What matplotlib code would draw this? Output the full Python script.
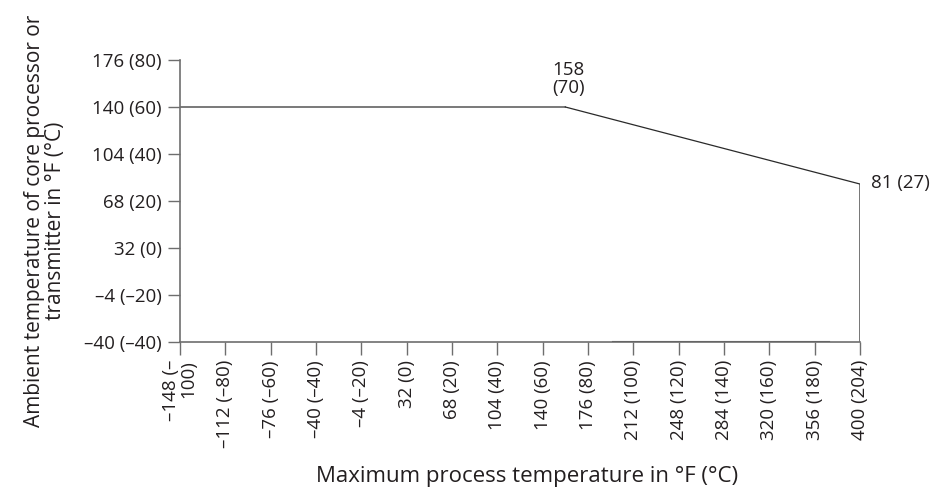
import numpy as np
import matplotlib
matplotlib.use("Agg")
import matplotlib.pyplot as plt

plt.rcParams['font.family'] = ['Open Sans', 'DejaVu Sans']

# Tick values in °F with °C in brackets
x_ticks_f = [-148, -112, -76, -40, -4, 32, 68, 104, 140, 176, 212, 248, 284, 320, 356, 400]
x_tick_labels = ["–148 (–\n100)", "–112 (–80)", "–76 (–60)", "–40 (–40)", "–4 (–20)",
                 "32 (0)", "68 (20)", "104 (40)", "140 (60)", "176 (80)", "212 (100)",
                 "248 (120)", "284 (140)", "320 (160)", "356 (180)", "400 (204)"]
y_ticks_f = [-40, -4, 32, 68, 104, 140, 176]
y_tick_labels = ["–40 (–40)", "–4 (–20)", "32 (0)", "68 (20)", "104 (40)", "140 (60)", "176 (80)"]

# Derating curve (process temp °F, ambient temp °F)
flat_x = [-148, 158]
flat_y = [140, 140]
slope_x = [158, 400, 400]
slope_y = [140, 81, -40]
base_x = [196, 370]
base_y = [-40, -40]

# x axis is drawn with evenly spaced ticks
tick_pos = np.arange(len(x_ticks_f))
def xpos(vals):
    return np.interp(vals, x_ticks_f, tick_pos)

fig = plt.figure(figsize=(9.35, 4.94), dpi=100)
ax = fig.add_axes([180 / 935, 1 - 342 / 494, 680 / 935, 282 / 494])

ax.plot(xpos(flat_x), flat_y, color="#6e6e6e", lw=1.3)
ax.plot(xpos(slope_x), slope_y, color="#2a2a2a", lw=0.9)
ax.plot(xpos(base_x), base_y, color="#3a3a3a", lw=1.5)

txt = "#231f20"
ax.set_xlim(0, tick_pos[-1])
ax.set_ylim(-40, 176)
ax.set_xticks(tick_pos)
ax.set_xticklabels(x_tick_labels, rotation=90, fontsize=13.5, color=txt,
                   linespacing=0.95, va="top", multialignment="right")
ax.set_yticks(y_ticks_f)
ax.set_yticklabels(y_tick_labels, fontsize=13.5, color=txt)

for s in ["top", "right"]:
    ax.spines[s].set_visible(False)
for s in ["left", "bottom"]:
    ax.spines[s].set_color("#6e6e6e")
    ax.spines[s].set_linewidth(1.2)
ax.tick_params(axis="both", length=9, width=1, color="#6e6e6e", pad=4)

ax.annotate("158\n(70)", xy=(xpos(158), 140), xytext=(2, 7), textcoords="offset points",
            ha="center", va="bottom", fontsize=13.5, color=txt, linespacing=1.05)
ax.annotate("81 (27)", xy=(xpos(400), 81), xytext=(8, 1), textcoords="offset points",
            ha="left", va="center", fontsize=13.5, color=txt)

ax.set_xlabel("Maximum process temperature in °F (°C)", fontsize=16, color=txt,
              labelpad=16)
ax.xaxis.set_label_coords(0.51, -0.44)
ax.set_ylabel("Ambient temperature of core processor or\ntransmitter in °F (°C)",
              fontsize=15, color=txt, linespacing=1.0)
ax.yaxis.set_label_coords(-0.168, 0.43)

fig.savefig("out.png", dpi=100)
